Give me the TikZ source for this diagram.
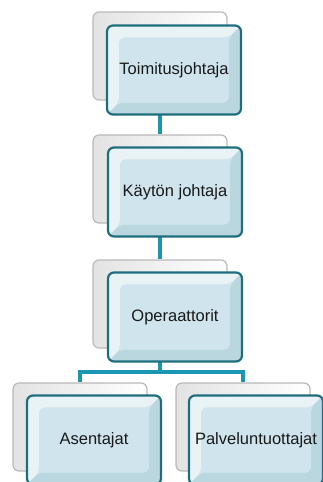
\documentclass[tikz,border=0pt]{standalone}
\usepackage{fontspec}
\setmainfont{Liberation Sans}
\usetikzlibrary{positioning}

\definecolor{edgeteal}{RGB}{30,110,127}
\definecolor{lineteal}{RGB}{26,150,178}
\definecolor{faceblue}{RGB}{207,228,236}
\definecolor{backgray}{RGB}{185,185,185}

\tikzset{
  backbox/.style={rectangle, rounded corners=6pt, minimum width=134pt, minimum height=88pt,
    draw=backgray, line width=1.2pt, left color=gray!22, right color=white},
  frontbox/.style={rectangle, rounded corners=6pt, minimum width=134pt, minimum height=89pt,
    draw=edgeteal, line width=2.2pt, fill=faceblue, text=black!90,
    font=\fontsize{16.5}{19}\selectfont,
    path picture={
      \coordinate (sw) at (path picture bounding box.south west);
      \coordinate (ne) at (path picture bounding box.north east);
      \coordinate (nw) at (sw |- ne);
      \coordinate (se) at (sw -| ne);
      \coordinate (isw) at ([xshift=12pt,yshift=12pt]sw);
      \coordinate (ine) at ([xshift=-12pt,yshift=-12pt]ne);
      \coordinate (inw) at (isw |- ine);
      \coordinate (ise) at (isw -| ine);
      \fill[white!55!faceblue] (sw) -- (nw) -- (ne) -- (ine) -- (inw) -- (isw) -- cycle;
      \fill[faceblue!88!edgeteal] (sw) -- (se) -- (ne) -- (ine) -- (ise) -- (isw) -- cycle;
      \fill[faceblue] (isw) rectangle (ine);
    }},
  link/.style={draw=lineteal, line width=4.5pt}
}

\begin{document}
\begin{tikzpicture}[x=1pt, y=-1pt]
\useasboundingbox (0,0) rectangle (323,482);

% back boxes
\node[backbox] (b1) at (160,56) {};
\node[backbox] (b2) at (160,179) {};
\node[backbox] (b3) at (160,304) {};
\node[backbox] (b4) at (80,427) {};
\node[backbox] (b5) at (243,427) {};

% connectors
\coordinate (c3) at (160,372);
\draw[link] (b1.center |- 0,114) -- (b2.north);
\draw[link] (b2.center |- 0,236) -- (b3.north);
\draw[link] (b3.center |- 0,359) -- (c3) -| (b4.north);
\draw[link] (c3) -| (b5.north);

% front boxes
\node[frontbox] (f1) at (174,70) {Toimitusjohtaja};
\node[frontbox] (f2) at (175,192) {Käytön johtaja};
\node[frontbox] (f3) at (175,317) {Operaattorit};
\node[frontbox] (f4) at (94,440) {Asentajat};
\node[frontbox] (f5) at (256,440) {Palveluntuottajat};

\end{tikzpicture}
\end{document}
